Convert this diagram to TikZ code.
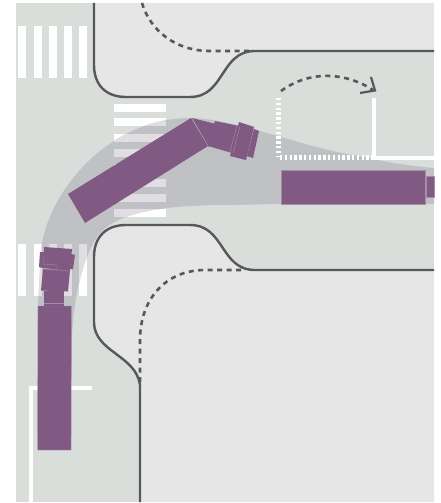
\documentclass[tikz,border=0pt]{standalone}
\usepackage{tikz}
\usetikzlibrary{arrows}
\definecolor{roadgreen}{HTML}{D9DEDB}
\definecolor{blockgray}{HTML}{E6E6E6}
\definecolor{kerbgray}{HTML}{58585A}
\definecolor{sweepgray}{HTML}{C0C1C5}
\definecolor{stripetint}{HTML}{E0DDE3}
\definecolor{truckpurple}{HTML}{805A82}
\definecolor{truckline}{HTML}{A58DA6}
\tikzset{
    kerb/.style={draw=kerbgray,line width=2.4pt,fill=blockgray},
    kerbdash/.style={draw=kerbgray,line width=2.6pt,dash pattern=on 5pt off 4.5pt},
    whiteline/.style={draw=white,line width=3.8pt},
    whitedots/.style={draw=white,line width=4.8pt,dash pattern=on 2.4pt off 2.4pt},
    truck/.style={fill=truckpurple,draw=truckline,line width=0.4pt},
    truckmark/.style={draw=truckline,line width=0.4pt}
}
\newcommand{\sweeppath}{(38,330) -- (38,306) -- (41,250) .. controls (48,190) and (110,118) .. (190,118)
    .. controls (235,118) and (310,150) .. (360,156) .. controls (385,162) and (410,166) .. (434,168)
    -- (434,204) -- (280,204) -- (230,205) .. controls (150,205) and (110,215) .. (95,240)
    .. controls (82,262) and (73,300) .. (72,340) -- cycle}
\newcommand{\crossings}[1]{
    \foreach \xpos in {18,34,49,64,79} {
        \fill[#1] (\xpos,26) rectangle ++(8,52);
        \fill[#1] (\xpos,244) rectangle ++(8,52);
    }
    \foreach \ypos in {104,118,134,149,164,179,194,209} {
        \fill[#1] (114,\ypos) rectangle ++(52,8);
    }
}
\begin{document}
\begin{tikzpicture}[x=1pt,y=-1pt]
    \useasboundingbox (0,0) rectangle (440,503);

    % Road surface
    \fill[roadgreen] (16,3) rectangle (434,502);

    % Upper block
    \path[fill=blockgray] (94,3) -- (94,65) .. controls (94,85) and (106,97) .. (126,97) -- (190,97)
        .. controls (225,97) and (220,51) .. (255,51) -- (434,51) -- (434,3) -- cycle;
    \draw[kerb,fill=none] (94,3) -- (94,65) .. controls (94,85) and (106,97) .. (126,97) -- (190,97)
        .. controls (225,97) and (220,51) .. (255,51) -- (434,51);

    % Lower block
    \path[fill=blockgray] (140,502) -- (140,385) .. controls (136,355) and (94,352) .. (94,322) -- (94,257)
        .. controls (94,237) and (106,225) .. (126,225) -- (190,225)
        .. controls (225,225) and (220,270) .. (255,270) -- (434,270) -- (434,502) -- cycle;
    \draw[kerb,fill=none] (140,502) -- (140,385) .. controls (136,355) and (94,352) .. (94,322) -- (94,257)
        .. controls (94,237) and (106,225) .. (126,225) -- (190,225)
        .. controls (225,225) and (220,270) .. (255,270) -- (434,270);

    % Old kerb lines
    \draw[kerbdash] (142,3) .. controls (150,30) and (175,51) .. (210,51) -- (252,51);
    \draw[kerbdash] (140,382) -- (140,340) .. controls (140,300) and (165,270) .. (205,270) -- (245,270);

    % Crossings and swept path
    \crossings{white}
    \fill[sweepgray] \sweeppath;
    \begin{scope}
        \clip \sweeppath;
        \crossings{stripetint}
    \end{scope}

    % Stop lines
    \draw[whiteline] (31,502) -- (31,388) -- (92,388);
    \draw[whiteline] (374,98) -- (374,158) -- (434,158);
    \draw[whitedots] (278.5,98) -- (278.5,157);
    \draw[whitedots] (280,157.5) -- (373,157.5);

    % Turning arrow
    \draw[kerbdash] (281,91) .. controls (310,70) and (345,72) .. (373,90);
    \draw[draw=kerbgray,line width=2.2pt] (360,93) -- (375,90.5) -- (371,77);

    % Truck on the right
    \draw[truck] (281,170) rectangle (425,204);
    \draw[truck] (426,176) rectangle (434,197);

    % Truck in the bend
    \fill[truckpurple] (192,118) -- (216,124) -- (209,147) -- (205,140) -- cycle;
    \fill[truckpurple] (215,121) -- (239,126) -- (232,153) -- (208,146) -- cycle;
    \fill[truckpurple] (68,194) -- (191,118) -- (208,146) -- (85,223) -- cycle;
    \fill[truckpurple] (239,122) -- (254,127) -- (246,160) -- (230,156) -- cycle;
    \fill[truckpurple] (254,129) -- (259,131) -- (253,158) -- (247,156) -- cycle;
    \draw[truckmark] (240,126) -- (233,153);
    \draw[truckmark] (237,125) -- (230,152);

    % Truck at the bottom
    \draw[truck] (38,306) -- (71.5,306) -- (71,450) -- (37.5,450) -- cycle;
    \fill[truckpurple] (44,291) -- (64,291) -- (64,306) -- (44,306) -- cycle;
    \draw[truckmark] (44,303) -- (64,303);
    \fill[truckpurple] (40,252) -- (44,252) -- (43,268) -- (39,267) -- cycle;
    \fill[truckpurple] (71,254) -- (75,255) -- (73,269) -- (70,269) -- cycle;
    \fill[truckpurple] (44,247) -- (72,249) -- (70,271) -- (43,268) -- cycle;
    \fill[truckpurple] (43,269) -- (70,270) -- (68,291.5) -- (41,290.5) -- cycle;
    \draw[truckmark] (43,264) -- (57,265) -- (57,270);
    \draw[truckmark] (43,269) -- (70,271);
\end{tikzpicture}
\end{document}
